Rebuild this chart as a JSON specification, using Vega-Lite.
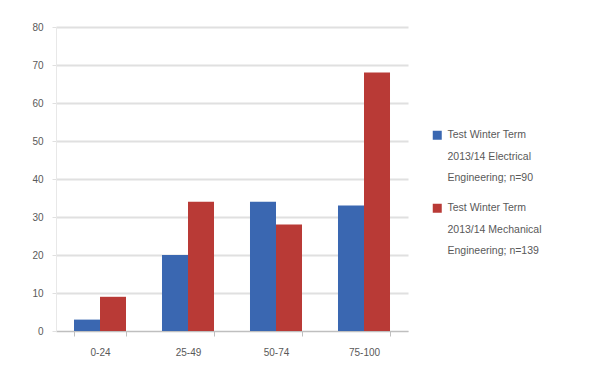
{
  "$schema": "https://vega.github.io/schema/vega-lite/v6.json",
  "autosize": "none",
  "width": 352,
  "height": 304,
  "padding": {"left": 56, "top": 27, "right": 189, "bottom": 43},
  "background": "white",
  "data": {
    "values": [
      {"range": "0-24", "series": "Test Winter Term 2013/14 Electrical Engineering; n=90", "value": 3},
      {"range": "0-24", "series": "Test Winter Term 2013/14 Mechanical Engineering; n=139", "value": 9},
      {"range": "25-49", "series": "Test Winter Term 2013/14 Electrical Engineering; n=90", "value": 20},
      {"range": "25-49", "series": "Test Winter Term 2013/14 Mechanical Engineering; n=139", "value": 34},
      {"range": "50-74", "series": "Test Winter Term 2013/14 Electrical Engineering; n=90", "value": 34},
      {"range": "50-74", "series": "Test Winter Term 2013/14 Mechanical Engineering; n=139", "value": 28},
      {"range": "75-100", "series": "Test Winter Term 2013/14 Electrical Engineering; n=90", "value": 33},
      {"range": "75-100", "series": "Test Winter Term 2013/14 Mechanical Engineering; n=139", "value": 68}
    ]
  },
  "mark": {"type": "bar"},
  "encoding": {
    "x": {
      "field": "range", "type": "nominal", "sort": null,
      "scale": {"paddingInner": 0.409, "paddingOuter": 0.2045},
      "axis": {"title": null, "labelAngle": 0, "tickBand": "extent", "domainColor": "#bfbfbf", "tickColor": "#bfbfbf", "tickSize": 5, "labelPadding": 11, "grid": false}
    },
    "xOffset": {"field": "series", "type": "nominal"},
    "y": {
      "field": "value", "type": "quantitative",
      "scale": {"domain": [0, 80]},
      "axis": {"title": null, "values": [0, 10, 20, 30, 40, 50, 60, 70, 80], "gridColor": "#e0e0e0", "gridWidth": 2, "domain": true, "domainColor": "#e8e8e8", "tickColor": "#e0e0e0", "tickSize": 4, "labelPadding": 9}
    },
    "color": {
      "field": "series", "type": "nominal",
      "scale": {"range": ["#3a67b1", "#b93a36"]},
      "legend": {
        "title": null,
        "orient": "none",
        "legendX": 376,
        "legendY": 103,
        "symbolType": "square",
        "symbolSize": 81,
        "symbolStrokeWidth": 0,
        "labelOffset": 5,
        "rowPadding": 19,
        "labelLimit": 200,
        "labelExpr": "split(replace(replace(datum.label, ' 2013', '|2013'), ' Engineering', '|Engineering'), '|')"
      }
    }
  },
  "config": {
    "font": "Liberation Sans",
    "view": {"stroke": null},
    "axis": {"labelColor": "#595959", "labelFontSize": 10},
    "legend": {"labelColor": "#595959", "labelFontSize": 10.5},
    "style": {"guide-label": {"lineHeight": 21.5}}
  }
}
